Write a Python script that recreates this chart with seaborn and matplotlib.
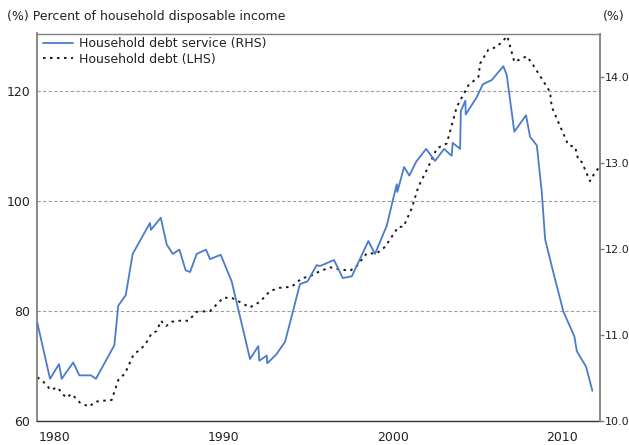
import matplotlib
matplotlib.use("Agg")
import matplotlib.pyplot as plt
import matplotlib.transforms as mtransforms
import seaborn as sns
import pandas as pd

# ---- Data ----
service_years = [1980.02, 1980.77, 1981.30, 1981.46, 1982.14, 1982.50, 1983.19, 1983.48,
                 1984.57, 1984.80, 1985.24, 1985.65, 1986.67, 1986.73, 1987.31, 1987.66,
                 1988.02, 1988.41, 1988.78, 1989.04, 1989.43, 1989.98, 1990.22, 1990.85,
                 1991.50, 1992.58, 1993.07, 1993.13, 1993.57, 1993.60, 1994.12, 1994.65,
                 1995.53, 1995.97, 1996.52, 1996.72, 1997.54, 1998.06, 1998.59, 1999.57,
                 1999.96, 2000.66, 2001.01, 2001.25, 2001.28, 2001.68, 2001.99, 2002.39,
                 2002.98, 2003.51, 2004.04, 2004.49, 2004.55, 2004.99, 2005.03, 2005.30,
                 2005.32, 2005.97, 2006.33, 2006.86, 2007.54, 2007.74, 2008.19, 2008.88,
                 2009.12, 2009.52, 2009.81, 2010.01, 2010.50, 2011.09, 2011.74, 2011.88,
                 2012.43, 2012.80]
service_values = [11.14, 10.49, 10.66, 10.49, 10.68, 10.53, 10.53, 10.49,
                  10.88, 11.34, 11.46, 11.94, 12.30, 12.22, 12.36, 12.05,
                  11.94, 11.99, 11.75, 11.73, 11.94, 11.99, 11.88, 11.93,
                  11.62, 10.72, 10.87, 10.70, 10.76, 10.67, 10.77, 10.92,
                  11.59, 11.62, 11.81, 11.80, 11.87, 11.66, 11.68, 12.09,
                  11.94, 12.27, 12.56, 12.75, 12.66, 12.95, 12.85, 13.01,
                  13.16, 13.02, 13.16, 13.08, 13.23, 13.16, 13.60, 13.72,
                  13.56, 13.76, 13.91, 13.96, 14.12, 14.02, 13.36, 13.55,
                  13.30, 13.20, 12.66, 12.11, 11.72, 11.27, 10.98, 10.81,
                  10.63, 10.35]

debt_years = [1980.02, 1980.37, 1980.81, 1981.20, 1981.71, 1982.05, 1982.54, 1983.09,
              1983.43, 1983.92, 1984.41, 1984.80, 1985.20, 1985.69, 1986.38, 1986.77,
              1987.07, 1987.32, 1987.62, 1987.96, 1988.35, 1988.94, 1989.43, 1990.22,
              1991.00, 1991.50, 1992.58, 1993.17, 1993.76, 1994.35, 1995.04, 1995.63,
              1996.13, 1996.72, 1997.31, 1997.90, 1998.49, 1998.88, 1999.47, 2000.06,
              2000.56, 2001.34, 2001.64, 2002.13, 2002.52, 2003.11, 2003.61, 2004.20,
              2004.79, 2005.48, 2006.07, 2006.17, 2006.66, 2007.15, 2007.78, 2008.19,
              2008.93, 2009.31, 2010.30, 2010.40, 2011.38, 2011.78, 2011.97, 2012.17,
              2012.66, 2012.86, 2013.21]
debt_values = [67.95, 67.15, 65.64, 66.13, 64.24, 64.91, 63.33, 62.60,
               63.51, 63.69, 63.82, 67.45, 68.67, 72.00, 73.82, 75.95,
               76.36, 78.24, 77.27, 78.05, 78.24, 78.24, 79.87, 80.00,
               82.42, 82.42, 80.67, 81.69, 83.64, 84.24, 84.42, 85.95,
               86.36, 87.27, 87.95, 87.58, 87.33, 88.18, 90.49, 90.49,
               91.69, 95.33, 95.33, 98.67, 102.60, 106.24, 109.58, 110.49,
               117.15, 121.09, 122.60, 125.04, 127.58, 128.05, 130.00, 125.33,
               126.36, 124.73, 119.87, 117.15, 110.18, 109.87, 107.45, 107.15,
               103.64, 104.73, 106.24]

x_ticks = [1980, 1990, 2000, 2010]
x_tick_labels = ["1980", "1990", "2000", "2010"]
left_ticks = [60, 80, 100, 120]
left_tick_labels = ["60", "80", "100", "120"]
right_ticks = [10.0, 11.0, 12.0, 13.0, 14.0]
right_tick_labels = ["10.0", "11.0", "12.0", "13.0", "14.0"]

service_label = "Household debt service (RHS)"
debt_label = "Household debt (LHS)"
left_title = "(%) Percent of household disposable income"
right_title = "(%)"

service_df = pd.DataFrame({"year": service_years, "value": service_values})
debt_df = pd.DataFrame({"year": debt_years, "value": debt_values})

# ---- Figure ----
sns.set_style("white")
plt.rcParams["font.family"] = ["DejaVu Sans"]
TXT = "#222222"

W, H = 629, 445
fig = plt.figure(figsize=(W / 100, H / 100), dpi=100)
L, R, T, B = 37, 600, 33.5, 421
ax = fig.add_axes([L / W, 1 - B / H, (R - L) / W, (B - T) / H])
ax2 = ax.twinx()

sns.lineplot(data=debt_df, x="year", y="value", ax=ax, color="#1a1a1a",
             linewidth=1.4, linestyle=(0, (1.3, 2.3)), estimator=None,
             sort=False, legend=False)
sns.lineplot(data=service_df, x="year", y="value", ax=ax2, color="#4a7cc9",
             linewidth=1.3, estimator=None, sort=False, legend=False)

ax.set_xlim(1980, 2013.25)
ax.set_ylim(60, 130.5)
ax2.set_ylim(10, 14.5)

ax.set_xlabel("")
ax.set_ylabel("")
ax2.set_ylabel("")

ax.set_xticks(x_ticks)
ax.set_xticklabels(x_tick_labels, fontsize=9, color=TXT)
ax.set_yticks(left_ticks)
ax.set_yticklabels(left_tick_labels, fontsize=9, color=TXT)
ax2.set_yticks(right_ticks)
ax2.set_yticklabels(right_tick_labels, fontsize=8, color=TXT)

ax.tick_params(axis="x", length=4, width=1, color="#333333", direction="out", pad=3)
ax.tick_params(axis="y", length=0, pad=5)
ax2.tick_params(axis="y", length=3, width=1, color="#808080", direction="out", pad=0.5)

# shift x labels to the right (as in reference)
offset = mtransforms.ScaledTranslation(0.175, 0, fig.dpi_scale_trans)
for lbl in ax.get_xticklabels():
    lbl.set_transform(lbl.get_transform() + offset)

# grid
ax.yaxis.grid(True, color="#a0a0a0", linestyle=(0, (3, 2)), linewidth=0.8)
ax.xaxis.grid(False)
ax2.grid(False)
ax.set_axisbelow(True)

# spines
for s in ["left", "top", "right", "bottom"]:
    ax2.spines[s].set_visible(False)
ax.spines["right"].set_visible(False)
ax.spines["left"].set_color("#808080")
ax.spines["left"].set_linewidth(1.3)
ax.spines["top"].set_color("#808080")
ax.spines["top"].set_linewidth(1.0)
ax.spines["bottom"].set_color("#333333")
ax.spines["bottom"].set_linewidth(1.0)
ax2.spines["right"].set_visible(True)
ax2.spines["right"].set_color("#808080")
ax2.spines["right"].set_linewidth(1.3)

# legend
h_service = ax2.get_lines()[0]
h_debt = ax.get_lines()[0]
ax2.legend([h_service, h_debt], [service_label, debt_label],
           loc="upper left", bbox_to_anchor=(43 / W, 1 - 37 / H),
           bbox_transform=fig.transFigure, frameon=False, fontsize=9,
           handlelength=2.4, handletextpad=0.45, labelspacing=0.2,
           borderpad=0, borderaxespad=0, labelcolor=TXT)

# header texts
fig.text(7 / W, 1 - 16.5 / H, left_title, ha="left", va="center", fontsize=9, color=TXT)
fig.text(603 / W, 1 - 16.5 / H, right_title, ha="left", va="center", fontsize=9, color=TXT)

fig.savefig("out.png", dpi=100)
